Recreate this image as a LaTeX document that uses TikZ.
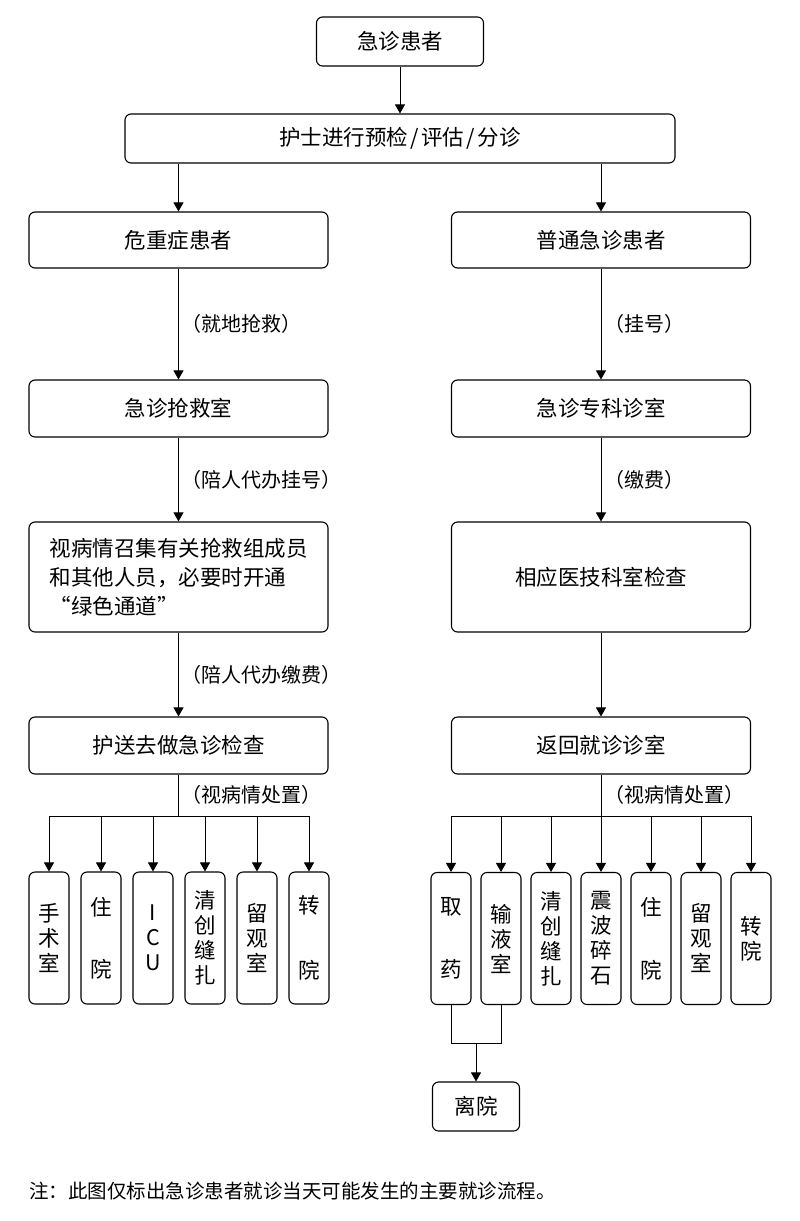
\documentclass[tikz,border=0pt]{standalone}
\usepackage{fontspec}
\setmainfont{Noto Sans CJK SC}
\usetikzlibrary{arrows.meta}

\begin{document}
\begin{tikzpicture}[x=1pt,y=-1pt,
  line width=0.9pt,>={Triangle[width=10pt,length=9pt]},
  box/.style={draw,line width=1.1pt,rounded corners=6pt,minimum width=299pt,minimum height=57pt,inner sep=0pt,font=\fontsize{21.5}{29}\selectfont},
  leaf/.style={draw,line width=1.1pt,rounded corners=6pt,minimum width=40pt,minimum height=132pt,inner sep=0pt,align=center,font=\fontsize{21.5}{25}\selectfont},
  lab/.style={inner sep=0pt,font=\fontsize{20}{24}\selectfont}]

  \useasboundingbox (0,0) rectangle (800,1221);

  \node[box,minimum width=167pt,minimum height=49pt] (1) at (400,41.5) {急诊患者};
  \node[box,minimum width=550pt,minimum height=49pt] (2) at (400,138.5) {护士进行预检\kern2.5pt/\kern2.5pt评估\kern2.5pt/\kern2.5pt分诊};
  \node[box,minimum height=56pt] (3) at (178.5,240) {危重症患者};
  \node[box,minimum height=56pt] (4) at (601,240) {普通急诊患者};
  \node[box] (5) at (178.5,408.5) {急诊抢救室};
  \node[box] (6) at (601,408.5) {急诊专科诊室};
  \node[box,minimum height=110pt,align=left] (7) at (178.5,577) {视病情召集有关抢救组成员\\和其他人员，必要时开通\\“绿色通道”};
  \node[box,minimum height=110pt] (8) at (601,577) {相应医技科室检查};
  \node[box] (9) at (178.5,745.5) {护送去做急诊检查};
  \node[box] (10) at (601,745.5) {返回就诊诊室};

  \node[leaf] (11) at (49,938) {手\\术\\室};
  \node[leaf] (12) at (101,938) {住\\[37pt]院};
  \node[leaf] (13) at (153,938) {I\\C\\U};
  \node[leaf] (14) at (205,938) {清\\创\\缝\\扎};
  \node[leaf] (15) at (257,938) {留\\观\\室};
  \node[leaf] (16) at (309,938) {转\\[40pt]院};

  \node[leaf] (21) at (451,938.5) {取\\[38pt]药};
  \node[leaf] (22) at (501,938.5) {输\\液\\室};
  \node[leaf] (23) at (551,938.5) {清\\创\\缝\\扎};
  \node[leaf] (24) at (601,938.5) {震\\波\\碎\\石};
  \node[leaf] (25) at (651,938.5) {住\\[38pt]院};
  \node[leaf] (26) at (701,938.5) {留\\观\\室};
  \node[leaf] (27) at (751,938.5) {转\\院};

  \node[box,minimum width=87pt,minimum height=49pt] (30) at (476,1106.5) {离院};
  \node[lab,anchor=west,font=\fontsize{19.5}{23}\selectfont] (31) at (29,1191) {注：此图仅标出急诊患者就诊当天可能发生的主要就诊流程。};

  \path[->,every node/.style={lab,right=3pt}]

   (1) edge (2)
   (2.south -| 3) edge (3)
   (2.south -| 4) edge (4)
   (3) edge node{（就地抢救）} (5)
   (5) edge node{（陪人代办挂号）} (7)
   (7) edge node{（陪人代办缴费）} (9)
   (4) edge node{（挂号）} (6)
   (6) edge node{（缴费）} (8)
   (8) edge (10);

  \coordinate (b1) at (178.5,816);
  \coordinate (b2) at (601,816);
  \draw (9) -- node[lab,right=3pt]{（视病情处置）} (b1);
  \draw (10) -- node[lab,right=3pt]{（视病情处置）} (b2);
  \draw[->] (b1) -| (11);
  \draw[->] (b1) -| (12);
  \draw[->] (b1) -| (13);
  \draw[->] (b1) -| (14);
  \draw[->] (b1) -| (15);
  \draw[->] (b1) -| (16);
  \draw[->] (b2) -| (21);
  \draw[->] (b2) -| (22);
  \draw[->] (b2) -| (23);
  \draw[->] (b2) -- (24);
  \draw[->] (b2) -| (25);
  \draw[->] (b2) -| (26);
  \draw[->] (b2) -| (27);

  \coordinate (m) at (476,1043);
  \draw (21) |- (m) -| (22);
  \draw[->] (m) -- (30);
\end{tikzpicture}
\end{document}
